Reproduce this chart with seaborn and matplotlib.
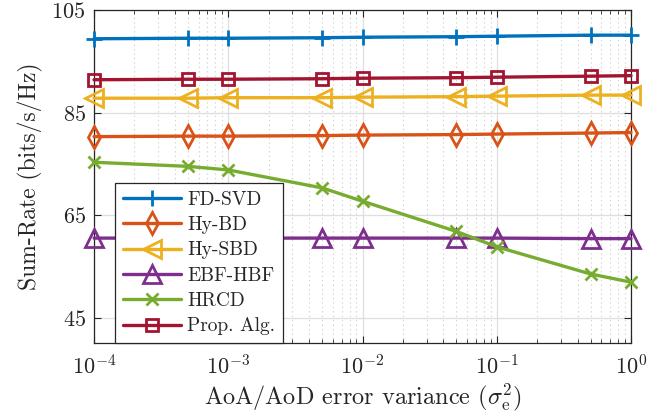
import numpy as np
import pandas as pd
import matplotlib
matplotlib.use('Agg')
import matplotlib.pyplot as plt
import matplotlib.ticker as mticker
import seaborn as sns

# error variance values (x axis)
variance = [1e-4, 5e-4, 1e-3, 5e-3, 1e-2, 5e-2, 1e-1, 5e-1, 1.0]

# sum-rate of each scheme
fd_svd = [99.4, 99.5, 99.5, 99.6, 99.7, 99.8, 99.9, 100.1, 100.1]
hy_bd = [80.3, 80.4, 80.4, 80.5, 80.6, 80.7, 80.8, 81.0, 81.1]
hy_sbd = [87.8, 87.8, 87.9, 87.9, 88.0, 88.1, 88.2, 88.4, 88.4]
ebf_hbf = [60.5, 60.5, 60.5, 60.5, 60.5, 60.5, 60.5, 60.4, 60.4]
hrcd = [75.3, 74.5, 73.8, 70.3, 67.7, 61.8, 58.8, 53.5, 51.9]
prop_alg = [91.4, 91.5, 91.5, 91.6, 91.7, 91.8, 91.9, 92.1, 92.2]

names = ['FD-SVD', 'Hy-BD', 'Hy-SBD', 'EBF-HBF', 'HRCD', 'Prop. Alg.']
series = [fd_svd, hy_bd, hy_sbd, ebf_hbf, hrcd, prop_alg]

df = pd.DataFrame({
    'variance': variance * len(names),
    'rate': np.concatenate(series),
    'scheme': np.repeat(names, len(variance)),
})

# MATLAB default colours
colors = ['#0072BD', '#D95319', '#EDB120', '#7E2F8E', '#77AC30', '#A2142F']
markers = ['+', 'd', '<', '^', 'x', 's']
msizes = [11.5, 11, 13, 13, 8.5, 8]

sns.set_style('ticks')
plt.rcParams['font.family'] = 'serif'
plt.rcParams['font.serif'] = ['cmr10', 'DejaVu Serif']
plt.rcParams['mathtext.fontset'] = 'cm'
plt.rcParams['axes.formatter.use_mathtext'] = True

fig = plt.figure(figsize=(6.67, 4.19), dpi=100)
ax = fig.add_axes([0.141, 0.181, 0.805, 0.795])

for name, col, mk, ms in zip(names, colors, markers, msizes):
    sns.lineplot(data=df[df['scheme'] == name], x='variance', y='rate', ax=ax,
                 color=col, marker=mk, markersize=ms, markerfacecolor='none',
                 markeredgecolor=col, markeredgewidth=2.0, linewidth=2.4,
                 label=name, clip_on=False, zorder=3)

ax.set_xscale('log')
ax.set_xlim(1e-4, 1)
ax.set_ylim(40, 105)
ax.set_yticks([45, 65, 85, 105])
ax.xaxis.set_major_locator(mticker.LogLocator(base=10, numticks=10))
ax.xaxis.set_minor_locator(mticker.LogLocator(base=10, subs=np.arange(2, 10), numticks=10))
ax.xaxis.set_minor_formatter(mticker.NullFormatter())

ax.grid(which='major', color='#dedede', linewidth=0.9, zorder=0)
ax.grid(which='minor', axis='x', color='#c8c8c8', linestyle=(0, (1, 3)), linewidth=0.8, zorder=0)
ax.set_axisbelow(True)

for sp in ax.spines.values():
    sp.set_visible(True)
    sp.set_color('#262626')
    sp.set_linewidth(0.9)
ax.tick_params(which='both', direction='in', top=True, right=True, colors='#262626', labelsize=16)
ax.tick_params(which='major', length=5)
ax.tick_params(which='minor', length=3)
ax.tick_params(axis='x', pad=8)
ax.tick_params(axis='y', pad=6)

ax.set_xlabel(r'AoA/AoD error variance ($\sigma_{\rm e}^2$)', fontsize=17.5, color='#262626', labelpad=2)
ax.set_ylabel('Sum-Rate (bits/s/Hz)', fontsize=17, color='#262626', labelpad=6)

leg = ax.legend(loc='lower left', bbox_to_anchor=(0.039, 0.0), borderaxespad=0,
                fontsize=14, handlelength=3.0, handletextpad=0.3, labelspacing=0.38,
                framealpha=1, fancybox=False, edgecolor='#262626', borderpad=0.4)
leg.get_frame().set_linewidth(0.9)
leg.set_zorder(5)

fig.savefig('out.png', dpi=100)
